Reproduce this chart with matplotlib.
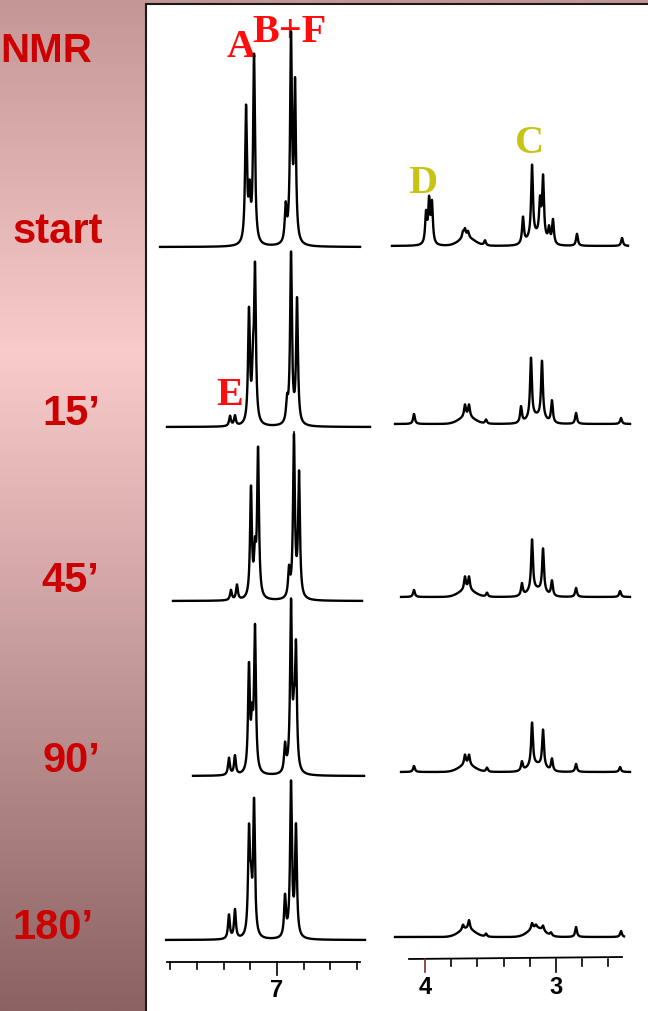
import numpy as np
import matplotlib
matplotlib.use("Agg")
import matplotlib.pyplot as plt
from matplotlib.colors import LinearSegmentedColormap
from matplotlib.patches import Rectangle

# ---------------- data (ppm, intensity) ----------------
row_labels = ["start", "15\u2019", "45\u2019", "90\u2019", "180\u2019"]

# aromatic region peaks (ppm, height)
arom_start = [(7.232, 135), (7.172, 188), (7.205, 45), (6.895, 203), (6.865, 155), (6.935, 35)]
arom_15 = [(7.352, 10), (7.315, 10), (7.210, 112), (7.165, 151), (7.180, 45),
           (6.895, 170), (6.850, 124), (6.925, 20)]
arom_45 = [(7.345, 10), (7.300, 15), (7.195, 109), (7.142, 147), (7.165, 40),
           (6.873, 160), (6.835, 123), (6.910, 27)]
arom_90 = [(7.360, 17), (7.315, 19), (7.210, 104), (7.165, 143), (7.187, 44),
           (6.895, 166), (6.858, 119), (6.940, 27), (6.873, 40)]
arom_180 = [(7.360, 24), (7.315, 29), (7.210, 101), (7.172, 133), (7.195, 39),
            (6.895, 153), (6.858, 109), (6.940, 40)]

# aliphatic region peaks (ppm, height)
aliph_start = [(3.992, 30), (3.969, 42), (3.947, 40), (3.710, 6), (3.695, 8), (3.672, 6),
               (3.542, 5), (3.252, 26), (3.183, 72), (3.122, 34), (3.099, 60),
               (3.053, 14), (3.023, 24), (2.840, 12), (2.496, 8)]
aliph_15 = [(4.084, 10), (3.695, 12), (3.664, 12), (3.534, 4), (3.267, 16), (3.191, 60),
            (3.107, 57), (3.031, 22), (2.847, 11), (2.504, 6)]
aliph_45 = [(4.084, 7), (3.695, 13), (3.664, 13), (3.527, 4), (3.260, 12), (3.183, 51),
            (3.099, 43), (3.031, 15), (2.847, 9), (2.511, 6)]
aliph_90 = [(4.084, 6), (3.695, 10), (3.664, 10), (3.527, 4), (3.260, 9), (3.183, 43),
            (3.099, 37), (3.031, 12), (2.847, 8), (2.511, 5)]
aliph_180 = [(3.710, 5), (3.664, 9), (3.534, 3), (3.183, 6), (3.153, 3), (3.099, 5),
             (3.038, 3), (2.847, 10), (2.504, 6)]

# broad humps in aliphatic region (ppm, height)
humps_start = [(3.68, 8), (3.15, 9)]
humps_15 = [(3.68, 7), (3.15, 7)]
humps_45 = [(3.68, 7), (3.15, 7)]
humps_90 = [(3.68, 7), (3.15, 7)]
humps_180 = [(3.68, 8), (3.15, 9)]

# recorded spectral windows (ppm)
arom_range = [(7.876, 6.378), (7.824, 6.303), (7.779, 6.363), (7.629, 6.348), (7.831, 6.341)]
aliph_range = [(4.252, 2.450), (4.229, 2.435), (4.183, 2.435), (4.183, 2.435), (4.229, 2.481)]

ppm_ticks_arom = [7.8, 7.6, 7.4, 7.2, 7.0, 6.8, 6.6, 6.4]
ppm_ticks_aliph = [4.0, 3.8, 3.6, 3.4, 3.2, 3.0, 2.8, 2.6]
tick_labels_arom = {7.0: "7"}
tick_labels_aliph = {4.0: "4", 3.0: "3"}

arom_rows = [arom_start, arom_15, arom_45, arom_90, arom_180]
aliph_rows = [aliph_start, aliph_15, aliph_45, aliph_90, aliph_180]
hump_rows = [humps_start, humps_15, humps_45, humps_90, humps_180]

# ---------------- layout ----------------
W, H = 648, 1012
fig = plt.figure(figsize=(W / 100, H / 100), dpi=100)

bg = fig.add_axes([0, 0, 1, 1])
cmap = LinearSegmentedColormap.from_list(
    "bg", [(0.0, "#c49696"), (0.35, "#f9cccc"), (1.0, "#8c6262")])
bg.imshow(np.linspace(0, 1, 512).reshape(-1, 1), cmap=cmap, aspect="auto",
          extent=(0, W, H, 0), zorder=0)
bg.set_xlim(0, W)
bg.set_ylim(H, 0)
bg.axis("off")
bg.add_patch(Rectangle((146, 4.5), 520, 1020, facecolor="white",
                       edgecolor="#1a1a1a", lw=1.5, zorder=1))

base_arom = [248, 428, 602, 777, 941]
base_aliph = [247, 425, 598, 773, 938]
label_pos = [(12, 243, "left"), (42, 425, "left"), (41, 592, "left"),
             (42, 772, "left"), (12, 939, "left")]

bg.text(0, 62, "NMR", color="#cc0000", fontsize=29, fontweight="bold",
        family="Liberation Sans", ha="left", va="baseline", zorder=3)
for lab, (x, y, ha) in zip(row_labels, label_pos):
    bg.text(x, y, lab, color="#cc0000", fontsize=30, fontweight="bold",
            family="Liberation Sans", ha=ha, va="baseline", zorder=3)

serif = dict(family="Liberation Serif", fontweight="bold", fontsize=29,
             va="baseline", ha="left", zorder=3)
bg.text(227, 57, "A", color="#ff0d0d", **serif)
bg.text(252, 42, "B+F", color="#ff0d0d", **serif)
bg.text(216, 405, "E", color="#ff0d0d", **serif)
bg.text(515, 153, "C", color="#c8c414", **serif)
bg.text(408, 193, "D", color="#c8c414", **serif)

# spectra axes (ppm scale, inverted)
PX_L, PX_R = 133.5, 131.0
axL = fig.add_axes([147 / W, 0, (380 - 147) / W, 1])
axL.set_xlim(7 + (277 - 147) / PX_L, 7 - (380 - 277) / PX_L)
axR = fig.add_axes([380 / W, 0, (648 - 380) / W, 1])
axR.set_xlim(4 + (425 - 380) / PX_R, 4 - (648 - 425) / PX_R)
for ax in (axL, axR):
    ax.set_ylim(H, 0)
    ax.axis("off")
    ax.patch.set_alpha(0)

NW = 0.0082   # Lorentzian half width (ppm)
HW = 0.06     # hump width (ppm)


def draw(ax, rng, peaks, humps, base):
    x = np.linspace(rng[0], rng[1], 4000)
    y = np.zeros_like(x)
    for p, h in peaks:
        y += h * NW ** 2 / ((x - p) ** 2 + NW ** 2)
    for p, h in humps:
        y += h * np.exp(-0.5 * ((x - p) / HW) ** 2)
    ax.plot(x, base - y, color="black", lw=1.7, solid_joinstyle="round")


for i in range(5):
    draw(axL, arom_range[i], arom_rows[i], [], base_arom[i])
    draw(axR, aliph_range[i], aliph_rows[i], hump_rows[i], base_aliph[i])

# small integration marks below B+F
marks = [(6.895, 258, 270), (6.873, 433, 440), (6.895, 612, 616), (6.895, 787, 791)]
for p, y0, y1 in marks:
    axL.plot([p, p], [y0, y1], color="black", lw=1.2)

# ppm rulers
tick_font = dict(family=["Liberation Sans Narrow", "Liberation Sans"], fontsize=17,
                 fontweight="bold", ha="center", va="center")
axL.plot([7.824, 6.378], [963, 963], color="black", lw=1.3)
for t in ppm_ticks_arom:
    ln = 13 if t in tick_labels_arom else 7
    axL.plot([t, t], [963, 963 + ln], color="black", lw=1.2)
for t, s in tick_labels_arom.items():
    axL.text(t, 991, s, **tick_font)

axR.plot([4.122, 2.496], [960, 958], color="black", lw=1.3)
for t in ppm_ticks_aliph:
    ln = 13 if t in tick_labels_aliph else 7
    axR.plot([t, t], [960, 960 + ln], color="#7a3020" if t == 4.0 else "black", lw=1.2)
for t, s in tick_labels_aliph.items():
    axR.text(t, 988, s, **tick_font)

fig.savefig("out.png", dpi=100)
